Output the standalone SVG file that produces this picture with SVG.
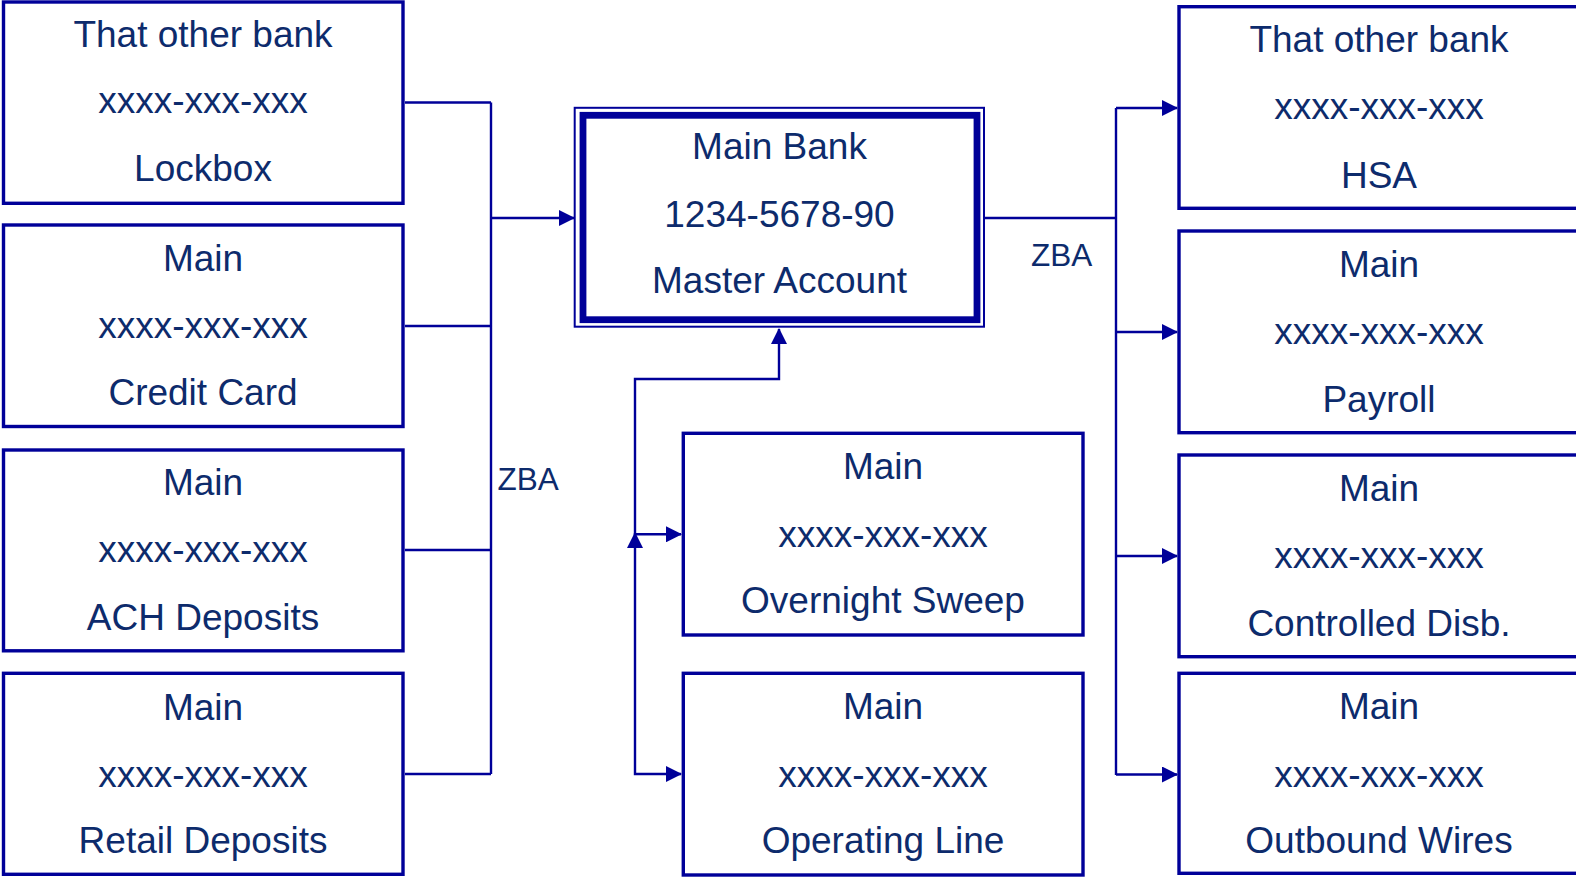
<svg xmlns="http://www.w3.org/2000/svg" width="1576" height="879" viewBox="0 0 1576 879">
  <style>
    .box { fill: #ffffff; stroke: #000099; stroke-width: 3.4; }
    .thin { fill: #ffffff; stroke: #000099; stroke-width: 2; }
    .thick { fill: none; stroke: #000099; stroke-width: 6.8; }
    .lbl { font-family: "Liberation Sans", Arial, sans-serif; font-size: 37px; fill: #0d2b6c; text-anchor: middle; }
    .zba { font-family: "Liberation Sans", Arial, sans-serif; font-size: 31.5px; fill: #0d2b6c; }
    .wire { fill: none; stroke: #000099; stroke-width: 2.4; }
    .arr { marker-end: url(#head); }
  </style>
  <defs>
    <marker id="head" viewBox="0 0 16 16" refX="15" refY="8" markerWidth="16" markerHeight="16" markerUnits="userSpaceOnUse" orient="auto-start-reverse">
      <path d="M0,0 L16,8 L0,16 z" fill="#000099"/>
    </marker>
  </defs>

  <rect width="1576" height="879" fill="#ffffff"/>

  <!-- connectors -->
  <g id="connectors">
    <!-- feeder accounts on the left sweep into the master account -->
    <path class="wire" d="M405 102.5 H491 M405 326 H491 M405 550 H491 M405 774 H491 M491 102.5 V774"/>
    <path class="wire arr" d="M491 218 H574"/>
    <!-- master account funds the disbursement accounts on the right -->
    <path class="wire" d="M985 218 H1116 M1116 108 V775"/>
    <path class="wire arr" d="M1116 108 H1177"/>
    <path class="wire arr" d="M1116 332 H1177"/>
    <path class="wire arr" d="M1116 556 H1177"/>
    <path class="wire arr" d="M1116 774.5 H1177"/>
    <!-- investment sweep and credit line -->
    <path class="wire" d="M681 534.3 H635 V379 H779 V329" marker-start="url(#head)" marker-end="url(#head)"/>
    <path class="wire" d="M635 533 V774 H681" marker-start="url(#head)" marker-end="url(#head)"/>
  </g>

  <text class="zba" x="497.5" y="490">ZBA</text>
  <text class="zba" x="1031" y="266">ZBA</text>

  <!-- left column -->
  <g id="lockbox">
    <rect class="box" x="3.5" y="2" width="399.5" height="201.3"/>
    <text class="lbl" x="203" y="46.7">That other bank</text>
    <text class="lbl" x="203" y="113.3">xxxx-xxx-xxx</text>
    <text class="lbl" x="203" y="181">Lockbox</text>
  </g>
  <g id="credit-card">
    <rect class="box" x="3.5" y="225" width="399.5" height="201.5"/>
    <text class="lbl" x="203" y="270.8">Main</text>
    <text class="lbl" x="203" y="337.8">xxxx-xxx-xxx</text>
    <text class="lbl" x="203" y="405">Credit Card</text>
  </g>
  <g id="ach-deposits">
    <rect class="box" x="3.5" y="450" width="399.5" height="200.8"/>
    <text class="lbl" x="203" y="495">Main</text>
    <text class="lbl" x="203" y="562.3">xxxx-xxx-xxx</text>
    <text class="lbl" x="203" y="629.5">ACH Deposits</text>
  </g>
  <g id="retail-deposits">
    <rect class="box" x="3.5" y="673.3" width="399.5" height="201"/>
    <text class="lbl" x="203" y="720">Main</text>
    <text class="lbl" x="203" y="786.7">xxxx-xxx-xxx</text>
    <text class="lbl" x="203" y="853.3">Retail Deposits</text>
  </g>

  <!-- master account -->
  <g id="master-account">
    <rect class="thin" x="574.7" y="107.8" width="409.3" height="218.9"/>
    <rect class="thick" x="583" y="115.3" width="394" height="204.4"/>
    <text class="lbl" x="779.5" y="159.3">Main Bank</text>
    <text class="lbl" x="779.5" y="226.7">1234-5678-90</text>
    <text class="lbl" x="779.5" y="292.7">Master Account</text>
  </g>

  <!-- middle column -->
  <g id="overnight-sweep">
    <rect class="box" x="683.3" y="433.3" width="399.7" height="201.7"/>
    <text class="lbl" x="883" y="479.3">Main</text>
    <text class="lbl" x="883" y="546.7">xxxx-xxx-xxx</text>
    <text class="lbl" x="883" y="613.3">Overnight Sweep</text>
  </g>
  <g id="operating-line">
    <rect class="box" x="683.3" y="673.3" width="399.7" height="201.7"/>
    <text class="lbl" x="883" y="719.3">Main</text>
    <text class="lbl" x="883" y="786.7">xxxx-xxx-xxx</text>
    <text class="lbl" x="883" y="853.3">Operating Line</text>
  </g>

  <!-- right column -->
  <g id="hsa">
    <rect class="box" x="1179" y="6.7" width="400" height="201.6"/>
    <text class="lbl" x="1379" y="52.3">That other bank</text>
    <text class="lbl" x="1379" y="119.3">xxxx-xxx-xxx</text>
    <text class="lbl" x="1379" y="187.5">HSA</text>
  </g>
  <g id="payroll">
    <rect class="box" x="1179" y="231" width="400" height="201.7"/>
    <text class="lbl" x="1379" y="276.7">Main</text>
    <text class="lbl" x="1379" y="344">xxxx-xxx-xxx</text>
    <text class="lbl" x="1379" y="411.5">Payroll</text>
  </g>
  <g id="controlled-disb">
    <rect class="box" x="1179" y="455" width="400" height="201.7"/>
    <text class="lbl" x="1379" y="500.7">Main</text>
    <text class="lbl" x="1379" y="568.3">xxxx-xxx-xxx</text>
    <text class="lbl" x="1379" y="636">Controlled Disb.</text>
  </g>
  <g id="outbound-wires">
    <rect class="box" x="1179" y="673.3" width="400" height="200"/>
    <text class="lbl" x="1379" y="719.3">Main</text>
    <text class="lbl" x="1379" y="786.7">xxxx-xxx-xxx</text>
    <text class="lbl" x="1379" y="853.3">Outbound Wires</text>
  </g>
</svg>
